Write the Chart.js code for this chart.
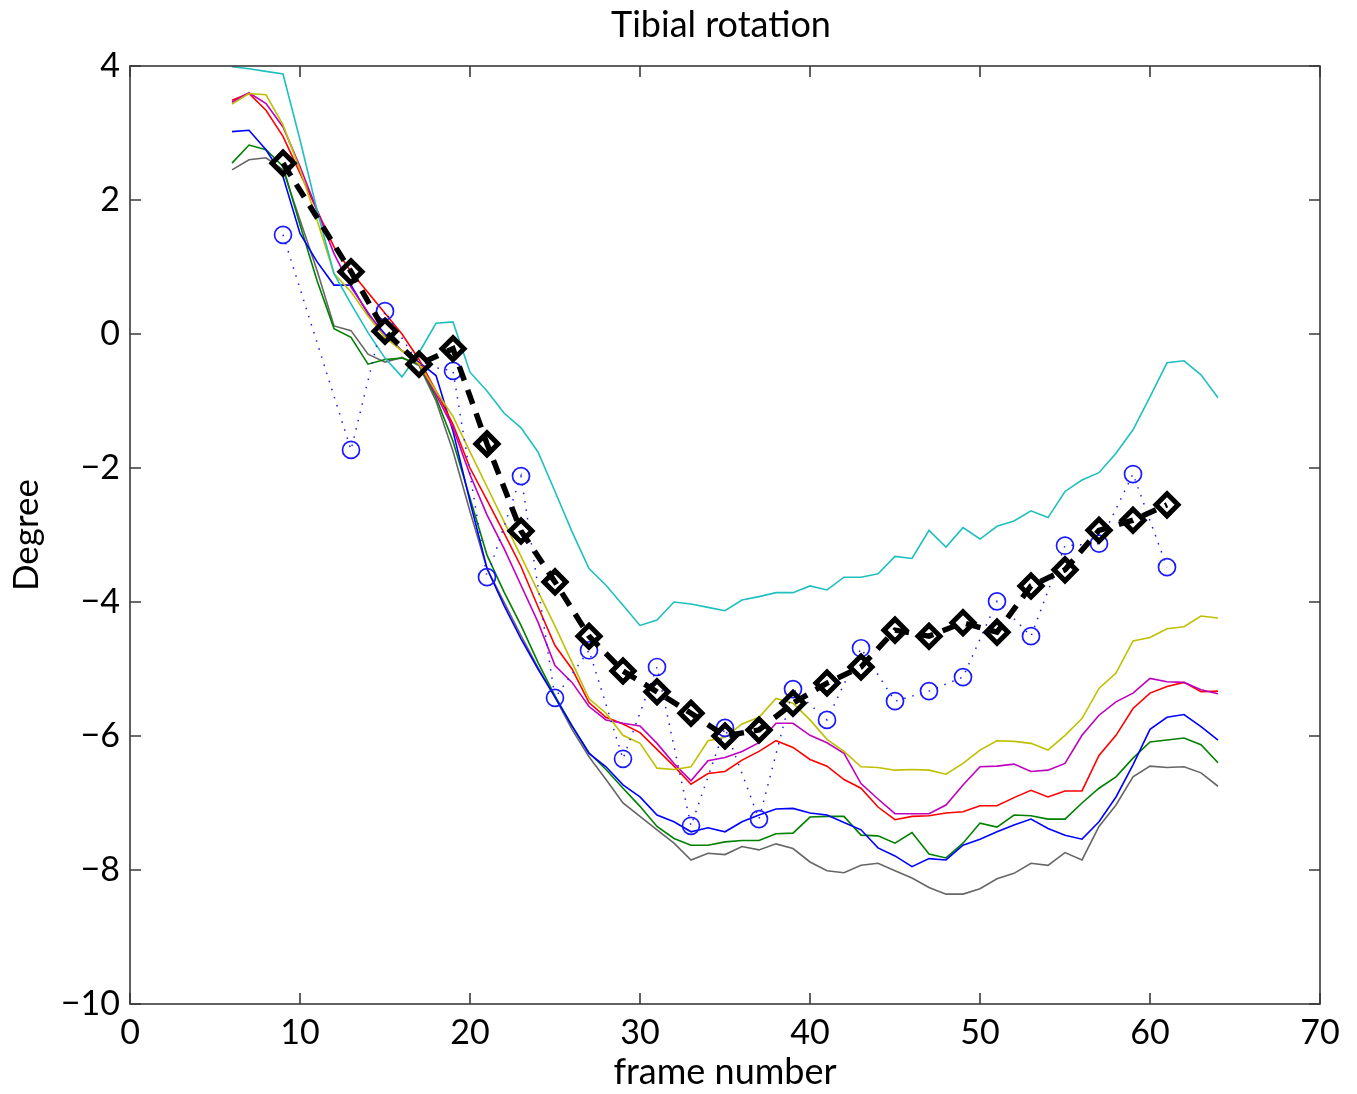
<!DOCTYPE html>
<html>
<head>
<meta charset="utf-8">
<script src="https://cdn.jsdelivr.net/npm/chart.js@4.4.1/dist/chart.umd.min.js"></script>
<style>
html,body{margin:0;padding:0;background:#ffffff;}
#wrap{width:1357px;height:1094px;position:relative;}
</style>
</head>
<body>
<div id="wrap"><canvas id="c" width="1357" height="1094"></canvas></div>
<script>
const chartTitle = 'Tibial rotation';
const xAxisLabel = 'frame number';
const yAxisLabel = 'Degree';

const frames = [6,7,8,9,10,11,12,13,14,15,16,17,18,19,20,21,22,23,24,25,26,27,28,29,30,31,32,33,34,35,36,37,38,39,40,41,42,43,44,45,46,47,48,49,50,51,52,53,54,55,56,57,58,59,60,61,62,63,64];
const markerFrames = [9,13,15,17,19,21,23,25,27,29,31,33,35,37,39,41,43,45,47,49,51,53,55,57,59,61];

const cyanVals = [3.99,3.96,3.92,3.88,2.9,1.85,0.9,0.45,0.02,-0.36,-0.64,-0.28,0.16,0.18,-0.57,-0.85,-1.18,-1.4,-1.76,-2.35,-2.95,-3.5,-3.75,-4.05,-4.35,-4.27,-4.0,-4.03,-4.08,-4.13,-3.97,-3.92,-3.86,-3.86,-3.76,-3.82,-3.63,-3.63,-3.58,-3.32,-3.35,-2.93,-3.18,-2.89,-3.06,-2.87,-2.79,-2.64,-2.74,-2.35,-2.18,-2.07,-1.78,-1.43,-0.94,-0.43,-0.40,-0.61,-0.95];
const yellowVals = [3.43,3.59,3.57,3.12,2.45,1.7,0.9,0.63,0.27,-0.05,-0.25,-0.45,-0.85,-1.23,-1.76,-2.28,-2.8,-3.32,-3.84,-4.36,-4.9,-5.44,-5.66,-5.99,-6.11,-6.48,-6.5,-6.46,-6.07,-6.02,-5.82,-5.72,-5.44,-5.51,-5.76,-6.05,-6.23,-6.46,-6.47,-6.51,-6.50,-6.51,-6.57,-6.41,-6.21,-6.07,-6.08,-6.11,-6.21,-5.99,-5.74,-5.29,-5.06,-4.58,-4.53,-4.40,-4.37,-4.21,-4.24];
const magentaVals = [3.46,3.6,3.44,3.09,2.5,1.85,1.2,0.7,0.32,-0.04,-0.25,-0.45,-0.9,-1.4,-2.1,-2.7,-3.2,-3.75,-4.3,-4.95,-5.2,-5.56,-5.76,-5.81,-5.85,-6.11,-6.41,-6.67,-6.37,-6.32,-6.23,-6.1,-5.81,-5.81,-5.99,-6.1,-6.26,-6.71,-6.94,-7.16,-7.16,-7.16,-7.03,-6.73,-6.46,-6.45,-6.42,-6.53,-6.51,-6.41,-5.99,-5.69,-5.49,-5.36,-5.14,-5.19,-5.2,-5.31,-5.37];
const redVals = [3.49,3.59,3.34,2.95,2.4,1.85,1.3,0.93,0.62,0.31,0.0,-0.38,-0.85,-1.35,-2.0,-2.48,-2.97,-3.47,-4.07,-4.65,-5.0,-5.5,-5.72,-5.82,-5.95,-6.2,-6.45,-6.72,-6.56,-6.53,-6.36,-6.23,-6.07,-6.17,-6.35,-6.45,-6.65,-6.78,-7.06,-7.25,-7.2,-7.19,-7.15,-7.13,-7.04,-7.04,-6.92,-6.81,-6.91,-6.82,-6.82,-6.29,-5.99,-5.59,-5.36,-5.26,-5.2,-5.34,-5.33];
const blueVals = [3.02,3.04,2.75,2.35,1.5,1.08,0.73,0.73,0.3,0.0,-0.25,-0.42,-0.62,-1.45,-2.5,-3.5,-4.05,-4.55,-5.0,-5.42,-5.85,-6.26,-6.46,-6.73,-6.91,-7.18,-7.28,-7.43,-7.37,-7.43,-7.28,-7.18,-7.09,-7.08,-7.15,-7.18,-7.29,-7.4,-7.67,-7.79,-7.95,-7.83,-7.85,-7.63,-7.54,-7.43,-7.33,-7.24,-7.38,-7.48,-7.54,-7.28,-6.91,-6.43,-5.9,-5.72,-5.68,-5.86,-6.06];
const greenVals = [2.55,2.82,2.75,2.5,1.63,0.8,0.08,-0.05,-0.45,-0.38,-0.36,-0.45,-0.95,-1.6,-2.45,-3.3,-3.85,-4.35,-4.9,-5.4,-5.85,-6.25,-6.5,-6.78,-7.05,-7.35,-7.53,-7.63,-7.63,-7.58,-7.56,-7.56,-7.46,-7.45,-7.21,-7.2,-7.2,-7.48,-7.49,-7.6,-7.44,-7.76,-7.82,-7.6,-7.3,-7.36,-7.18,-7.19,-7.24,-7.24,-7.0,-6.78,-6.61,-6.33,-6.09,-6.06,-6.03,-6.13,-6.4];
const grayVals = [2.45,2.6,2.63,2.45,1.7,0.95,0.12,0.05,-0.3,-0.42,-0.35,-0.47,-1.0,-1.75,-2.65,-3.5,-4.0,-4.5,-4.98,-5.42,-5.9,-6.31,-6.65,-7.0,-7.2,-7.4,-7.6,-7.85,-7.75,-7.77,-7.65,-7.7,-7.61,-7.68,-7.88,-8.01,-8.04,-7.93,-7.9,-8.01,-8.12,-8.26,-8.36,-8.36,-8.28,-8.13,-8.05,-7.9,-7.93,-7.74,-7.85,-7.35,-7.03,-6.61,-6.45,-6.47,-6.46,-6.55,-6.75];

const meanVals = [2.55,0.93,0.04,-0.45,-0.22,-1.64,-2.94,-3.70,-4.51,-5.03,-5.34,-5.66,-6.0,-5.91,-5.51,-5.21,-4.97,-4.42,-4.51,-4.31,-4.45,-3.76,-3.52,-2.93,-2.78,-2.55];
const subjectVals = [1.48,-1.73,0.34,-0.46,-0.55,-3.63,-2.12,-5.43,-4.72,-6.34,-4.97,-7.34,-5.88,-7.24,-5.30,-5.76,-4.69,-5.48,-5.33,-5.12,-3.99,-4.51,-3.16,-3.13,-2.09,-3.48];

const xTicks = [0,10,20,30,40,50,60,70];
const yTicks = [-10,-8,-6,-4,-2,0,2,4];

function pairs(xs, ys){ return xs.map((x,i)=>({x:x, y:ys[i]})); }

const FONT = 'Lato, "Open Sans", "DejaVu Sans", sans-serif';

function thinLine(vals, color){
  return {data: pairs(frames, vals), borderColor: color, backgroundColor: color,
    borderWidth: 1.6, pointRadius: 0, tension: 0, fill: false};
}

const datasets = [
  {data: pairs(markerFrames, meanVals), borderColor:'#000000', backgroundColor:'rgba(0,0,0,0)',
   borderWidth: 5.5, borderDash:[15,10], borderCapStyle:'butt', tension:0, fill:false,
   pointStyle:'rectRot', pointRadius: 11, pointBorderWidth: 5, pointBorderColor:'#000000',
   pointBackgroundColor:'rgba(0,0,0,0)'},
  {data: pairs(markerFrames, subjectVals), borderColor:'#1a1aff', backgroundColor:'rgba(0,0,0,0)',
   borderWidth: 1.5, borderDash:[1.5,7], tension:0, fill:false,
   pointStyle:'circle', pointRadius: 8.5, pointBorderWidth: 1.7, pointBorderColor:'#1a1aff',
   pointBackgroundColor:'rgba(0,0,0,0)'},
  thinLine(cyanVals, '#1fbfbf'),
  thinLine(yellowVals, '#bfbf00'),
  thinLine(magentaVals, '#bf00bf'),
  thinLine(redVals, '#ff0000'),
  thinLine(blueVals, '#0000ff'),
  thinLine(greenVals, '#008000'),
  thinLine(grayVals, '#666666')
];

const fmt = v => (v < 0 ? '\u2212' + Math.abs(v) : String(v));

const frameTicks = {
  id: 'frameTicks',
  afterDatasetsDraw(chart){
    const {ctx, chartArea:a, scales} = chart;
    const L = 11;
    ctx.save();
    ctx.strokeStyle = '#3a3a3a';
    ctx.lineWidth = 1.6;
    ctx.beginPath();
    xTicks.forEach(v => {
      const px = scales.x.getPixelForValue(v);
      ctx.moveTo(px, a.bottom); ctx.lineTo(px, a.bottom - L);
      ctx.moveTo(px, a.top); ctx.lineTo(px, a.top + L);
    });
    yTicks.forEach(v => {
      const py = scales.y.getPixelForValue(v);
      ctx.moveTo(a.left, py); ctx.lineTo(a.left + L, py);
      ctx.moveTo(a.right, py); ctx.lineTo(a.right - L, py);
    });
    ctx.stroke();
    ctx.strokeRect(a.left, a.top, a.right - a.left, a.bottom - a.top);
    ctx.fillStyle = '#000';
    ctx.font = '36px ' + FONT;
    ctx.textAlign = 'center';
    ctx.textBaseline = 'middle';
    ctx.fillText(chartTitle, (a.left + a.right) / 2 - 4, 25);
    ctx.restore();
  }
};

new Chart(document.getElementById('c'), {
  type: 'line',
  data: {datasets},
  options: {
    responsive: false,
    animation: false,
    devicePixelRatio: 1,
    layout: {padding: {left: 0, right: 37, top: 66, bottom: 0}},
    plugins: {
      legend: {display: false},
      tooltip: {enabled: false},
      title: {display: false}
    },
    scales: {
      x: {
        type: 'linear', min: 0, max: 70,
        afterBuildTicks: s => { s.ticks = xTicks.map(v => ({value: v})); },
        afterFit: s => { s.height = 90; },
        grid: {display: false, drawTicks: false},
        border: {display: false},
        ticks: {color:'#000', padding: 9, font: {family: FONT, size: 34}, callback: fmt, maxRotation: 0},
        title: {display: true, text: xAxisLabel, color:'#000', font: {family: FONT, size: 36}, padding: {top: 0, bottom: 0}}
      },
      y: {
        type: 'linear', min: -10, max: 4,
        afterBuildTicks: s => { s.ticks = yTicks.map(v => ({value: v})); },
        afterFit: s => { s.width = 130; },
        grid: {display: false, drawTicks: false},
        border: {display: false},
        ticks: {color:'#000', padding: 10, font: {family: FONT, size: 34}, callback: fmt},
        title: {display: true, text: yAxisLabel, color:'#000', font: {family: FONT, size: 35}, padding: {top: 6, bottom: 0}}
      }
    }
  },
  plugins: [frameTicks]
});
</script>
</body>
</html>
